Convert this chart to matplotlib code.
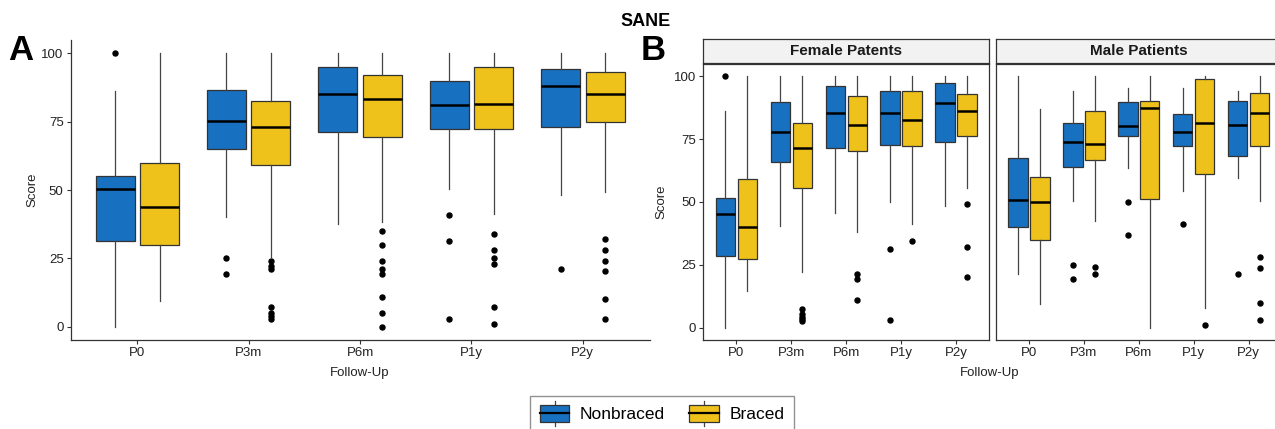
import numpy as np
import matplotlib
matplotlib.use('Agg')
import matplotlib.pyplot as plt
from matplotlib.patches import Rectangle
from matplotlib.lines import Line2D
from matplotlib.legend_handler import HandlerBase

plt.rcParams['font.family'] = ['Liberation Sans', 'DejaVu Sans']

# Follow-up time points and groups
categories = ['P0', 'P3m', 'P6m', 'P1y', 'P2y']
groups = ['Nonbraced', 'Braced']

# Each row: [whisker low, Q1, median, Q3, whisker high]
# Panel A - all patients
all_nonbraced = [[0, 31.5, 50.4, 55.2, 86.2],
                 [40.2, 65.1, 75.2, 86.5, 100],
                 [37.4, 71.3, 85.1, 95.0, 100],
                 [50.4, 72.2, 81.2, 89.9, 100],
                 [48.3, 73.2, 88.2, 94.3, 100]]
all_nonbraced_out = [[100], [25.2, 19.3], [], [41.0, 31.2, 3.0], [21.0]]
all_braced = [[9.5, 29.9, 43.7, 59.9, 100],
              [25.6, 59.0, 73.0, 82.4, 100],
              [38.2, 69.4, 83.2, 92.2, 100],
              [41.2, 72.2, 81.5, 95.0, 100],
              [49.1, 75.0, 85.1, 93.0, 100]]
all_braced_out = [[], [24.0, 22.3, 21.2, 7.3, 5.1, 4.0, 2.9],
                  [35.0, 30.0, 24.0, 21.2, 19.3, 11.0, 5.0, 0.0],
                  [34.0, 28.0, 25.1, 22.9, 7.2, 1.1],
                  [32.2, 28.0, 24.0, 20.2, 10.0, 3.0]]

# Panel B - female patients
female_nonbraced = [[0, 28.4, 45.2, 51.7, 86.0],
                    [40.3, 65.7, 77.9, 89.9, 100],
                    [45.5, 71.3, 85.2, 96.3, 100],
                    [50.1, 72.6, 85.2, 94.2, 100],
                    [48.3, 73.9, 89.3, 97.2, 100]]
female_nonbraced_out = [[100], [], [], [31.1, 3.2], []]
female_braced = [[14.4, 27.4, 40.1, 59.3, 100],
                 [22.2, 55.6, 71.3, 81.2, 100],
                 [38.2, 70.2, 80.6, 92.1, 100],
                 [41.3, 72.2, 82.4, 94.2, 100],
                 [55.7, 76.1, 86.1, 93.1, 100]]
female_braced_out = [[], [7.3, 5.4, 4.4, 3.6, 2.8], [21.4, 19.2, 11.0], [34.3], [49.1, 32.2, 20.2]]

# Panel B - male patients
male_nonbraced = [[21.5, 40.0, 50.9, 67.5, 100],
                  [50.3, 63.9, 73.8, 81.2, 94.2],
                  [63.4, 76.1, 80.3, 89.8, 95.2],
                  [54.4, 72.2, 78.0, 84.9, 95.2],
                  [59.7, 68.3, 80.7, 90.3, 94.2]]
male_nonbraced_out = [[], [25.0, 19.3], [50.0, 37.0], [41.1], [21.3]]
male_braced = [[9.4, 34.7, 50.1, 60.1, 87.0],
               [42.3, 66.8, 73.1, 86.1, 100],
               [0, 51.1, 87.3, 90.1, 100],
               [7.7, 61.0, 81.5, 98.9, 100],
               [50.3, 72.4, 85.3, 93.5, 100]]
male_braced_out = [[], [24.1, 21.2], [], [1.1], [28.0, 23.9, 9.9, 3.2]]

BLUE = '#1870C0'
YELLOW = '#EEC21B'
EDGE = '#333333'


def draw_boxes(ax, nb, nb_out, br, br_out):
    x = np.arange(len(categories))
    for stats, outs, col, off in ((nb, nb_out, BLUE, -0.2), (br, br_out, YELLOW, 0.2)):
        bstats = [dict(whislo=s[0], q1=s[1], med=s[2], q3=s[3], whishi=s[4], fliers=o)
                  for s, o in zip(stats, outs)]
        ax.bxp(bstats, positions=x + off, widths=0.35, patch_artist=True,
               showcaps=False, manage_ticks=False,
               boxprops=dict(facecolor=col, edgecolor=EDGE, linewidth=0.9),
               medianprops=dict(color='black', linewidth=1.8),
               whiskerprops=dict(color='#444444', linewidth=0.9),
               flierprops=dict(marker='o', markerfacecolor='black',
                               markeredgecolor='black', markersize=3.6))
    ax.set_xlim(-0.6, 4.6)
    ax.set_ylim(-5, 105)
    ax.set_xticks(x)
    ax.set_xticklabels(categories)
    ax.set_yticks([0, 25, 50, 75, 100])
    ax.tick_params(length=3, width=0.8, color=EDGE, labelsize=9.5,
                   labelcolor='#222222', pad=2)


class BoxHandler(HandlerBase):
    def create_artists(self, legend, orig_handle, xdescent, ydescent,
                       width, height, fontsize, trans):
        fc = orig_handle.get_facecolor()
        x0, y0 = -xdescent, -ydescent
        bh = height * 1.05
        by = y0 + (height - bh) / 2
        cx = x0 + width / 2
        wl = Line2D([cx, cx], [by - 0.3 * height, by + bh + 0.3 * height],
                    color='#444444', lw=0.9, transform=trans)
        rect = Rectangle((x0, by), width, bh, facecolor=fc, edgecolor=EDGE,
                         lw=0.9, transform=trans)
        med = Line2D([x0, x0 + width], [by + bh / 2] * 2, color='black',
                     lw=1.6, transform=trans)
        return [wl, rect, med]


fig = plt.figure(figsize=(12.75, 4.29), dpi=100)

# ---- Panel A ----
axA = fig.add_axes([0.0553, 0.2065, 0.4542, 0.7012])
draw_boxes(axA, all_nonbraced, all_nonbraced_out, all_braced, all_braced_out)
for s in ('top', 'right'):
    axA.spines[s].set_visible(False)
for s in ('left', 'bottom'):
    axA.spines[s].set_color(EDGE)
    axA.spines[s].set_linewidth(0.9)
axA.set_ylabel('Score', fontsize=9.5, color='#222222')
axA.yaxis.set_label_coords(-0.056, 0.5)
axA.set_xlabel('Follow-Up', fontsize=9.5, color='#222222')
axA.xaxis.set_label_coords(0.5, -0.09)

# ---- Panel B ----
panel_w = 0.2241
panel_b = 0.2068
panel_h = 0.6449
strip_b = 0.8524
strip_h = 0.0567
facets = [(0.5516, 'Female Patents', female_nonbraced, female_nonbraced_out,
           female_braced, female_braced_out),
          (0.7812, 'Male Patients', male_nonbraced, male_nonbraced_out,
           male_braced, male_braced_out)]
for i, (left, title, nb, nbo, br, bro) in enumerate(facets):
    ax = fig.add_axes([left, panel_b, panel_w, panel_h])
    draw_boxes(ax, nb, nbo, br, bro)
    for s in ax.spines.values():
        s.set_color(EDGE)
        s.set_linewidth(0.9)
    if i == 0:
        ax.set_ylabel('Score', fontsize=9.5, color='#222222')
        ax.yaxis.set_label_coords(-0.125, 0.5)
    else:
        ax.tick_params(axis='y', left=False, labelleft=False)
    sax = fig.add_axes([left, strip_b, panel_w, strip_h])
    sax.set_facecolor('#F2F2F2')
    sax.set_xticks([])
    sax.set_yticks([])
    for s in sax.spines.values():
        s.set_color(EDGE)
        s.set_linewidth(0.9)
    sax.text(0.5, 0.5, title, ha='center', va='center', fontsize=11,
             fontweight='bold', color='#1a1a1a', transform=sax.transAxes)

fig.text(990 / 1275, 1 - 373 / 429, 'Follow-Up', ha='center', va='center',
         fontsize=9.5, color='#222222')

# ---- titles and panel letters ----
fig.text(646 / 1275, 1 - 21 / 429, 'SANE', ha='center', va='center',
         fontsize=13, fontweight='bold')
fig.text(8 / 1275, 1 - 50 / 429, 'A', ha='left', va='center',
         fontsize=25, fontweight='bold')
fig.text(641 / 1275, 1 - 50 / 429, 'B', ha='left', va='center',
         fontsize=25, fontweight='bold')

# ---- legend ----
handles = [Rectangle((0, 0), 1, 1, facecolor=BLUE),
           Rectangle((0, 0), 1, 1, facecolor=YELLOW)]
leg = fig.legend(handles, groups, loc='center', ncol=2,
                 bbox_to_anchor=(662 / 1275, 1 - 414 / 429),
                 handler_map={Rectangle: BoxHandler()},
                 fontsize=12.5, frameon=True, fancybox=False,
                 edgecolor='#777777', handlelength=1.7, handleheight=1.0,
                 handletextpad=0.6, columnspacing=1.4, borderpad=0.55)
leg.get_frame().set_linewidth(1.0)

fig.savefig('out.png', dpi=100)
